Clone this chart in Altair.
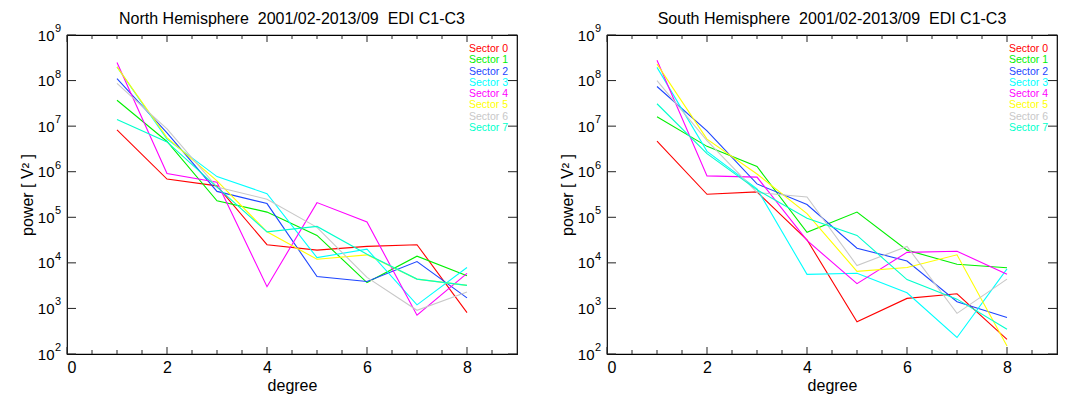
import altair as alt
import pandas as pd

degrees = [1, 2, 3, 4, 5, 6, 7, 8]
sectors = ["Sector 0", "Sector 1", "Sector 2", "Sector 3",
           "Sector 4", "Sector 5", "Sector 6", "Sector 7"]
colors = ["#FF0000", "#00F000", "#1E46FF", "#00FFFF",
          "#FF00FF", "#FFFF00", "#C8C8C8", "#00FFCC"]

# North Hemisphere power per degree
north_s0 = [8.3e6, 6.9e5, 4.9e5, 2.5e4, 1.9e4, 2.3e4, 2.5e4, 8.1e2]
north_s1 = [3.7e7, 4.6e6, 2.3e5, 1.3e5, 4.0e4, 3.7e3, 1.4e4, 5.2e3]
north_s2 = [1.1e8, 7.1e6, 3.7e5, 2.0e5, 5.0e3, 3.9e3, 1.07e4, 1.7e3]
north_s3 = [2.0e8, 5.2e6, 7.8e5, 3.3e5, 1.3e4, 2.0e4, 1.2e3, 7.9e3]
north_s4 = [2.5e8, 9.1e5, 5.9e5, 3.0e3, 2.1e5, 7.9e4, 7.1e2, 5.9e3]
north_s5 = [2.0e8, 5.6e6, 6.3e5, 4.8e4, 1.2e4, 1.5e4, 4.4e3, 3.2e3]
north_s6 = [8.7e7, 8.7e6, 4.6e5, 2.5e5, 6.0e4, 4.8e3, 9.1e2, 2.3e3]
north_s7 = [1.4e7, 4.5e6, 4.6e5, 4.8e4, 6.3e4, 1.55e4, 4.4e3, 3.2e3]

# South Hemisphere power per degree
south_s0 = [4.7e6, 3.2e5, 3.6e5, 3.2e4, 5.1e2, 1.66e3, 2.1e3, 2.1e2]
south_s1 = [1.6e7, 3.6e6, 1.3e6, 4.7e4, 1.3e5, 1.9e4, 9.3e3, 7.8e3]
south_s2 = [7.4e7, 7.9e6, 5.4e5, 1.9e5, 2.1e4, 1.1e4, 1.4e3, 6.3e2]
south_s3 = [1.95e8, 2.8e6, 4.2e5, 5.6e3, 5.9e3, 2.2e3, 2.3e2, 7.4e3]
south_s4 = [2.8e8, 8.1e5, 7.6e5, 3.1e4, 3.5e3, 1.7e4, 1.8e4, 5.6e3]
south_s5 = [2.3e8, 5.2e6, 8.9e5, 1.2e5, 6.5e3, 7.9e3, 1.5e4, 1.5e2]
south_s6 = [1.0e8, 4.8e6, 3.5e5, 2.8e5, 8.7e3, 2.3e4, 7.8e2, 4.4e3]
south_s7 = [3.1e7, 2.5e6, 4.0e5, 9.5e4, 4.0e4, 4.3e3, 1.6e3, 3.5e2]

x_major = [0, 2, 4, 6, 8]
x_minor = [0.5, 1, 1.5, 2.5, 3, 3.5, 4.5, 5, 5.5, 6.5, 7, 7.5, 8.5]
y_major = [1e2, 1e3, 1e4, 1e5, 1e6, 1e7, 1e8, 1e9]
y_exponents = ["2", "3", "4", "5", "6", "7", "8", "9"]

FONT = "Liberation Sans"
W, H = 450, 319

north = [north_s0, north_s1, north_s2, north_s3, north_s4, north_s5, north_s6, north_s7]
south = [south_s0, south_s1, south_s2, south_s3, south_s4, south_s5, south_s6, south_s7]

xs = alt.Scale(domain=[0, 9], nice=False, zero=False)
ys = alt.Scale(type="log", domain=[1e2, 1e9], nice=False)
cs = alt.Scale(domain=sectors, range=colors)

x_axis = alt.Axis(values=x_major, title="degree", format="d")


def panel(title, series):
    rows = []
    for name, vals in zip(sectors, series):
        for d, v in zip(degrees, vals):
            rows.append({"degree": d, "power": v, "sector": name})
    df = pd.DataFrame(rows)

    lines = alt.Chart(df).mark_line(strokeWidth=1.1, clip=True).encode(
        x=alt.X("degree:Q", scale=xs, axis=x_axis),
        y=alt.Y("power:Q", scale=ys,
                axis=alt.Axis(values=y_major, labelExpr="'10'", labelPadding=13,
                              title="power [ V\u00b2 ]")),
        color=alt.Color("sector:N", scale=cs, legend=None),
    )

    xmaj = pd.DataFrame({"t": x_major})
    xmin = pd.DataFrame({"t": x_minor})
    ymaj = pd.DataFrame({"t": y_major, "e": y_exponents})

    def xt(data, y0, y1):
        return alt.Chart(data).mark_rule(color="#222", strokeWidth=1).encode(
            x=alt.X("t:Q", scale=xs, axis=x_axis), y=alt.value(y0), y2=alt.value(y1))

    def yt(data, x0, x1):
        return alt.Chart(data).mark_rule(color="#222", strokeWidth=1).encode(
            y=alt.Y("t:Q", scale=ys, axis=None), x=alt.value(x0), x2=alt.value(x1))

    ticks = [xt(xmaj, H, H - 7), xt(xmaj, 0, 7), xt(xmin, H, H - 4), xt(xmin, 0, 4),
             yt(ymaj, 0, 9), yt(ymaj, W, W - 9)]

    exps = alt.Chart(ymaj).mark_text(
        align="left", baseline="middle", fontSize=11, font=FONT, dy=-6, color="#000"
    ).encode(
        y=alt.Y("t:Q", scale=ys, axis=None),
        x=alt.value(-12),
        text="e:N",
    )

    legend = alt.Chart(pd.DataFrame({"sector": sectors})).mark_text(
        align="right", baseline="middle", fontSize=10.5, font=FONT).encode(
        x=alt.value(W - 9),
        y=alt.Y("sector:N",
                scale=alt.Scale(type="point", domain=sectors, range=[14, 93], padding=0),
                axis=None),
        text="sector:N",
        color=alt.Color("sector:N", scale=cs, legend=None),
    )

    return alt.layer(lines, *ticks, exps, legend).resolve_scale(y="independent").properties(
        width=W, height=H,
        title=alt.TitleParams(title, fontSize=16, font=FONT, fontWeight="normal",
                              anchor="middle", offset=-4, color="#000"))


left = panel("North Hemisphere\u00a0\u00a02001/02-2013/09\u00a0\u00a0EDI C1-C3", north)
right = panel("South Hemisphere\u00a0\u00a02001/02-2013/09\u00a0\u00a0EDI C1-C3", south)

chart = alt.hconcat(left, right, spacing=39).configure(
    padding={"left": 10, "right": 0, "top": 2, "bottom": 0}
).configure_view(stroke="#000", strokeWidth=1.2).configure_axis(
    grid=False, ticks=False, domain=False, labelFont=FONT, titleFont=FONT,
    labelFontSize=15, titleFontSize=16, titleFontWeight="normal",
    labelColor="#000", titleColor="#000", labelPadding=4, titlePadding=2,
).configure_axisX(labelPadding=5, titlePadding=2, labelFontSize=16)

chart.save("out.html", embed_options={"renderer": "svg", "actions": False})
